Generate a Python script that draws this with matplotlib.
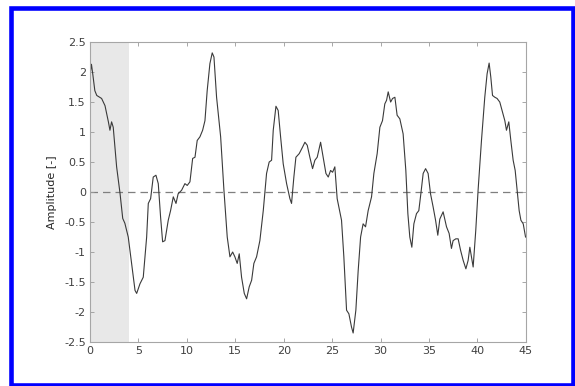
import numpy as np
import matplotlib.pyplot as plt
from matplotlib.patches import Rectangle

plt.rcParams["font.family"] = ["DejaVu Sans"]
plt.rcParams["axes.unicode_minus"] = False

# time [s] and amplitude samples of the measured signal
time = [0.0, 0.15, 0.3, 0.5, 0.7, 1.2, 1.55, 1.9, 2.06, 2.23, 2.4, 2.75, 3.1,
        3.38, 3.6, 3.95, 4.3, 4.65, 4.82, 5.16, 5.5, 5.85, 6.02, 6.26, 6.53,
        6.81, 7.05, 7.29, 7.5, 7.74, 8.08, 8.32, 8.6, 8.88, 9.1, 9.46, 9.8,
        10.04, 10.32, 10.6, 10.84, 11.07, 11.35, 11.63, 11.87, 12.1, 12.38,
        12.62, 12.8, 13.07, 13.49, 13.83, 14.17, 14.45, 14.73, 14.96, 15.2,
        15.41, 15.65, 15.93, 16.17, 16.44, 16.69, 16.92, 17.2, 17.54, 17.89,
        18.23, 18.5, 18.75, 18.92, 19.2, 19.43, 19.68, 19.95, 20.3, 20.64,
        20.81, 21.05, 21.26, 21.6, 21.95, 22.19, 22.43, 22.7, 22.98, 23.22,
        23.46, 23.81, 24.08, 24.36, 24.6, 24.84, 25.05, 25.28, 25.52, 25.97,
        26.21, 26.49, 26.73, 27.0, 27.17, 27.45, 27.69, 27.94, 28.2, 28.45,
        28.72, 29.07, 29.31, 29.65, 29.93, 30.2, 30.44, 30.62, 30.79, 31.04,
        31.24, 31.48, 31.71, 31.99, 32.33, 32.61, 32.82, 33.02, 33.23, 33.44,
        33.71, 33.95, 34.16, 34.4, 34.65, 34.91, 35.16, 35.43, 35.68, 35.91,
        36.12, 36.46, 36.81, 37.08, 37.32, 37.49, 37.77, 38.01, 38.26, 38.53,
        38.81, 39.04, 39.22, 39.39, 39.56, 39.83, 40.07, 40.42, 40.76, 41.0,
        41.21, 41.38, 41.56, 41.8, 42.03, 42.31, 42.59, 42.83, 43.0, 43.24,
        43.45, 43.69, 43.9, 44.1, 44.31, 44.49, 44.73, 44.97]
amplitude = [1.95, 2.13, 1.95, 1.69, 1.61, 1.56, 1.44, 1.17, 1.03, 1.17, 1.08,
             0.42, -0.02, -0.44, -0.52, -0.75, -1.19, -1.64, -1.69, -1.53,
             -1.42, -0.75, -0.19, -0.11, 0.25, 0.28, 0.14, -0.42, -0.83, -0.81,
             -0.47, -0.31, -0.08, -0.19, -0.03, 0.03, 0.14, 0.11, 0.17, 0.56,
             0.58, 0.86, 0.92, 1.03, 1.19, 1.69, 2.14, 2.32, 2.25, 1.58, 0.92,
             0.03, -0.75, -1.08, -1.0, -1.08, -1.19, -1.03, -1.42, -1.69, -1.78,
             -1.58, -1.47, -1.19, -1.08, -0.81, -0.31, 0.31, 0.5, 0.53, 1.03,
             1.43, 1.36, 0.92, 0.47, 0.14, -0.11, -0.19, 0.25, 0.58, 0.64, 0.75,
             0.83, 0.78, 0.58, 0.39, 0.53, 0.58, 0.83, 0.58, 0.31, 0.25, 0.36,
             0.33, 0.42, -0.11, -0.47, -1.08, -1.97, -2.03, -2.25, -2.35, -1.97,
             -1.31, -0.75, -0.53, -0.58, -0.31, -0.08, 0.31, 0.64, 1.08, 1.19,
             1.47, 1.53, 1.67, 1.5, 1.56, 1.58, 1.28, 1.22, 0.97, 0.36, -0.36,
             -0.75, -0.92, -0.53, -0.36, -0.31, -0.03, 0.31, 0.39, 0.31, -0.03,
             -0.25, -0.47, -0.72, -0.45, -0.33, -0.58, -0.69, -0.94, -0.81,
             -0.78, -0.78, -0.97, -1.14, -1.28, -1.14, -0.92, -1.08, -1.25,
             -0.64, 0.03, 0.86, 1.58, 1.97, 2.15, 1.92, 1.61, 1.58, 1.56, 1.5,
             1.33, 1.19, 1.03, 1.17, 0.86, 0.53, 0.36, 0.03, -0.31, -0.47,
             -0.53, -0.75]

window = (0, 4)          # shaded start-up window [s]
xticks = np.arange(0, 46, 5)
yticks = np.arange(-2.5, 2.51, 0.5)
ytick_labels = ["%g" % v for v in yticks]

fig = plt.figure(figsize=(5.75, 3.86), dpi=100)
ax = fig.add_axes([0.1565, 0.114, 0.758, 0.777])

ax.axvspan(*window, color="#e8e8e8", lw=0, zorder=0)
ax.axhline(0, color="#7f7f7f", lw=0.9, ls=(0, (6, 4)), zorder=1)
ax.plot(time, amplitude, color="#3a3a3a", lw=0.8, zorder=2)

ax.set_xlim(0, 45)
ax.set_ylim(-2.5, 2.5)
ax.set_xticks(xticks)
ax.set_yticks(yticks)
ax.set_yticklabels(ytick_labels)
ax.tick_params(direction="in", length=3, width=0.6, color="#999999",
               labelcolor="#404040", labelsize=8, top=True, right=True, pad=3)
for s in ax.spines.values():
    s.set_color("#a6a6a6")
    s.set_linewidth(0.8)
ax.set_ylabel("Amplitude [-]", fontsize=8, color="#262626", labelpad=5)

# blue frame around the whole figure
fig.patches.append(Rectangle((11 / 575, 1 - 384.5 / 386), 562 / 575, 377 / 386,
                             transform=fig.transFigure, fill=False,
                             edgecolor="#0000ff", lw=3.3))

fig.savefig("out.png", dpi=100)
